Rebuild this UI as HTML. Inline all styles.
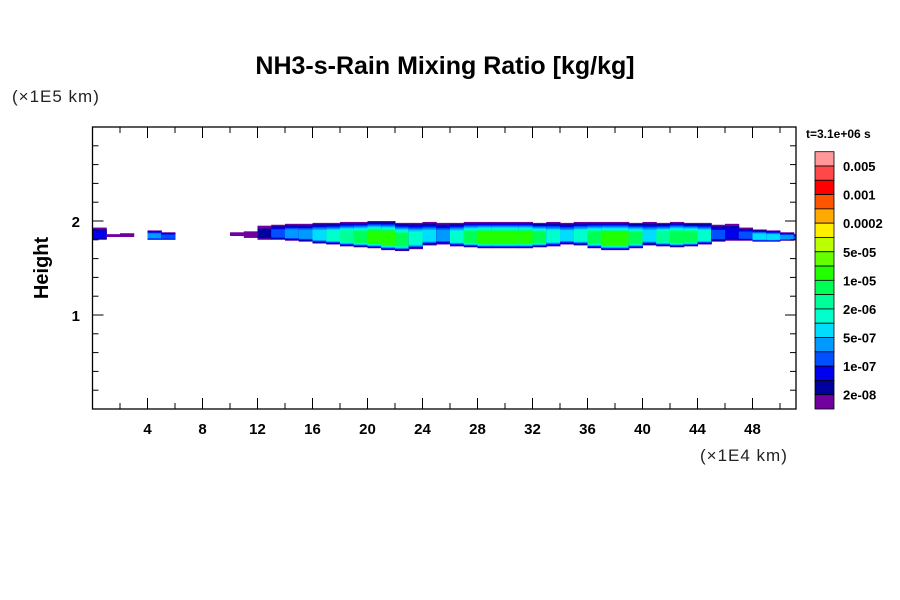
<!DOCTYPE html>
<html><head><meta charset="utf-8"><style>
body{margin:0;background:#fff;}
svg{display:block;font-family:"Liberation Sans",sans-serif;}
</style></head><body>
<svg id="chart" width="900" height="600" viewBox="0 0 900 600">
<rect x="0" y="0" width="900" height="600" fill="#fff"/>
<text x="445" y="74" text-anchor="middle" font-size="25" font-weight="bold">NH3-s-Rain Mixing Ratio [kg/kg]</text>
<text x="12" y="102" font-size="17" fill="#222" letter-spacing="1">(×1E5 km)</text>
<text x="700" y="461" font-size="17" fill="#222" letter-spacing="1">(×1E4 km)</text>
<text transform="translate(48,268) rotate(-90)" text-anchor="middle" font-size="20" font-weight="bold">Height</text>
<text x="806" y="138" font-size="12" font-weight="bold">t=3.1e+06 s</text>
<g id="field"></g>
<g id="axes"></g>
<g id="cbar"></g>
</svg>
<script>
const tops=[1.93,1.86,1.87,null,1.90,1.88,null,null,null,null,1.88,1.89,1.95,1.96,1.97,1.97,1.98,1.98,1.99,1.99,2.0,2.0,1.98,1.98,1.99,1.98,1.98,1.99,1.99,1.99,1.99,1.99,1.98,1.99,1.98,1.99,1.99,1.99,1.99,1.98,1.99,1.98,1.99,1.98,1.98,1.96,1.97,1.93,1.91,1.90,1.88,1.86];
const bots=[1.80,1.83,1.83,null,1.80,1.80,null,null,null,null,1.84,1.82,1.80,1.80,1.79,1.78,1.76,1.75,1.73,1.72,1.71,1.69,1.68,1.70,1.74,1.75,1.73,1.72,1.71,1.71,1.71,1.71,1.72,1.73,1.75,1.74,1.71,1.69,1.69,1.71,1.74,1.73,1.72,1.73,1.75,1.78,1.79,1.79,1.78,1.78,1.79,1.80];
const levels=[2,0,0,-1,4,3,-1,-1,-1,-1,0,0,1,3,4,4,5,6,7,8,9,9,8,6,5,4,6,8,9,9,9,9,8,6,5,6,8,9,9,8,5,7,8,8,6,3,2,3,5,5,4,3];
const xTicks=[4,8,12,16,20,24,28,32,36,40,44,48];
const yTicks=[1,2];
const cbColors=["#ff9999","#ff4848","#ff0000","#ff5500","#ffaa00","#ffee00","#bbff00","#66ff00","#22ff00","#00ff55","#00ff99","#00ffcc","#00ddff","#0099ff","#0050ff","#0000ee","#0000a0","#7000a0"];
const cbLabels=["0.005","0.001","0.0002","5e-05","1e-05","2e-06","5e-07","1e-07","2e-08"];
const levelColors=cbColors.slice().reverse();
const NS="http://www.w3.org/2000/svg";
const X0=92.5,X1=796,Y0=409,Y1=127,XMAX=(796-92.5)/13.75,YMAX=3.0;
const sx=v=>X0+v*(X1-X0)/XMAX;
const sy=v=>Y0-v*(Y0-Y1)/YMAX;
function mk(tag,attrs,parent){const e=document.createElementNS(NS,tag);for(const k in attrs)e.setAttribute(k,attrs[k]);parent.appendChild(e);return e;}
const field=document.getElementById('field');
for(let i=0;i<levels.length;i++){
  const m=levels[i]; if(m<0||tops[i]==null)continue;
  const t=tops[i],b=bots[i];
  const xa=sx(i),xb=Math.min(sx(i+1),X1);
  for(let k=0;k<=m;k++){
    const f=k/(m+1);
    const tk=t-(t-b)*f*0.4, bk=b+(t-b)*f*0.2;
    const r=mk('rect',{x:xa,y:sy(tk),width:xb-xa+0.5,height:Math.max(1,sy(bk)-sy(tk)),fill:levelColors[k]},field);
    
    
  }
}
const axes=document.getElementById('axes');
const fr=mk('rect',{x:X0,y:Y1,width:X1-X0,height:Y0-Y1,fill:'none',stroke:'#000','stroke-width':1.3},axes);


for(let v=2;v<XMAX;v+=2){
  const x=sx(v),maj=v%4===0,L=maj?11:6;
  mk('line',{x1:x,x2:x,y1:Y0,y2:Y0-L,stroke:'#000'},axes);
  mk('line',{x1:x,x2:x,y1:Y1,y2:Y1+L,stroke:'#000'},axes);
}
for(let j=1;j*0.2<YMAX;j++){
  const v=j*0.2,y=sy(v),maj=j%5===0,L=maj?11:6;
  mk('line',{x1:X0,x2:X0+L,y1:y,y2:y,stroke:'#000'},axes);
  mk('line',{x1:X1,x2:X1-L,y1:y,y2:y,stroke:'#000'},axes);
}
xTicks.forEach(v=>{const t=mk('text',{x:sx(v),y:434,'text-anchor':'middle','font-size':15,'font-weight':'bold'},axes);t.textContent=v;

});
yTicks.forEach(v=>{const t=mk('text',{x:80,y:sy(v)+6,'text-anchor':'end','font-size':15,'font-weight':'bold'},axes);t.textContent=v;

});
const cb=document.getElementById('cbar');
const CT=151.7,CB=409,bh=(CB-CT)/cbColors.length;
cbColors.forEach((c,i)=>{const r=mk('rect',{x:815,y:CT+i*bh,width:19,height:bh,fill:c,stroke:'#000','stroke-width':0.8},cb);

});
cbLabels.forEach((l,i)=>{const t=mk('text',{x:843,y:CT+(2*i+1)*bh+5,'font-size':13,'font-weight':'bold'},cb);t.textContent=l;

});
</script>
</body></html>
